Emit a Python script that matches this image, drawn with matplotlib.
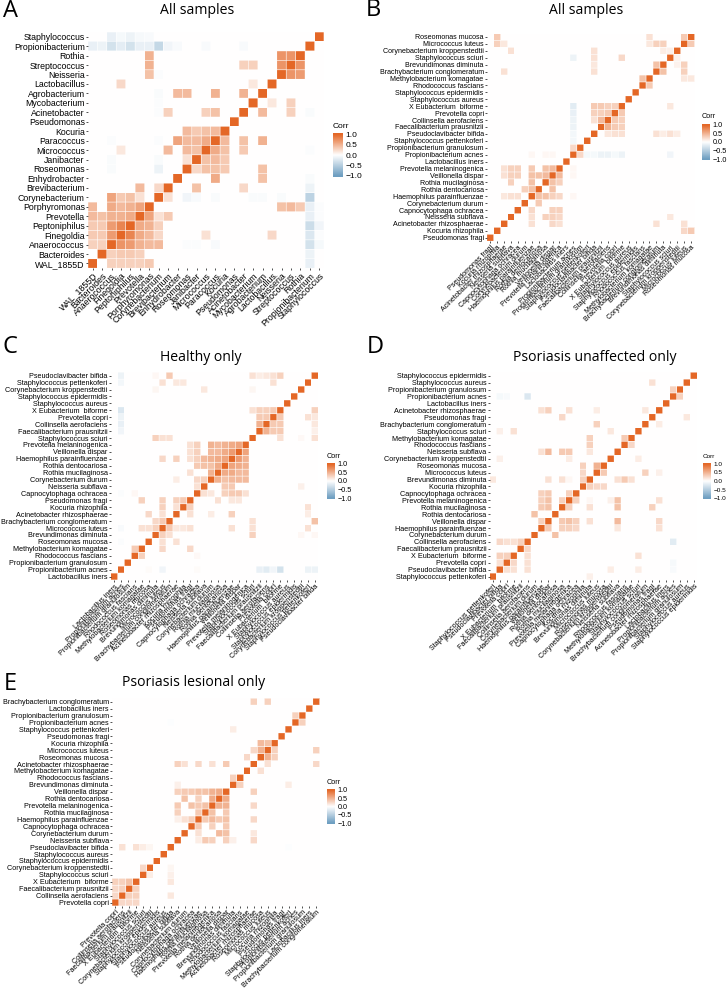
import numpy as np
import matplotlib
matplotlib.use("Agg")
import matplotlib.pyplot as plt
from matplotlib.colors import LinearSegmentedColormap

plt.rcParams['font.family'] = ['Liberation Sans', 'DejaVu Sans']

W, H = 728, 989
cmap = LinearSegmentedColormap.from_list('corr', ['#6D9EC1', '#FFFFFF', '#E46726'])
legend_ticks = [1.0, 0.5, 0.0, -0.5, -1.0]

# Category orders, bottom row / left column first
labels_A = ['WAL_1855D', 'Bacteroides', 'Anaerococcus', 'Finegoldia', 'Peptoniphilus', 'Prevotella',
            'Porphyromonas', 'Corynebacterium', 'Brevibacterium', 'Enhydrobacter', 'Roseomonas', 'Janibacter',
            'Micrococcus', 'Paracoccus', 'Kocuria', 'Pseudomonas', 'Acinetobacter', 'Mycobacterium',
            'Agrobacterium', 'Lactobacillus', 'Neisseria', 'Streptococcus', 'Rothia', 'Propionibacterium',
            'Staphylococcus']
labels_B = ['Pseudomonas fragi', 'Kocuria rhizophila', 'Acinetobacter rhizosphaerae', 'Neisseria subflava',
            'Capnocytophaga ochracea', 'Corynebacterium durum', 'Haemophilus parainfluenzae', 'Rothia dentocariosa',
            'Rothia mucilaginosa', 'Veillonella dispar', 'Prevotella melaninogenica', 'Lactobacillus iners',
            'Propionibacterium acnes', 'Propionibacterium granulosum', 'Staphylococcus pettenkoferi',
            'Pseudoclavibacter bifida', 'Faecalibacterium prausnitzii', 'Collinsella aerofaciens', 'Prevotella copri',
            'X Eubacterium  biforme', 'Staphylococcus aureus', 'Staphylococcus epidermidis', 'Rhodococcus fascians',
            'Methylobacterium komagatae', 'Brachybacterium conglomeratum', 'Brevundimonas diminuta',
            'Staphylococcus sciuri', 'Corynebacterium kroppenstedtii', 'Micrococcus luteus', 'Roseomonas mucosa']
labels_C = ['Lactobacillus iners', 'Propionibacterium acnes', 'Propionibacterium granulosum', 'Rhodococcus fascians',
            'Methylobacterium komagatae', 'Roseomonas mucosa', 'Brevundimonas diminuta', 'Micrococcus luteus',
            'Brachybacterium conglomeratum', 'Acinetobacter rhizosphaerae', 'Kocuria rhizophila', 'Pseudomonas fragi',
            'Capnocytophaga ochracea', 'Neisseria subflava', 'Corynebacterium durum', 'Rothia mucilaginosa',
            'Rothia dentocariosa', 'Haemophilus parainfluenzae', 'Veillonella dispar', 'Prevotella melaninogenica',
            'Staphylococcus sciuri', 'Faecalibacterium prausnitzii', 'Collinsella aerofaciens', 'Prevotella copri',
            'X Eubacterium  biforme', 'Staphylococcus aureus', 'Staphylococcus epidermidis',
            'Corynebacterium kroppenstedtii', 'Staphylococcus pettenkoferi', 'Pseudoclavibacter bifida']
labels_D = ['Staphylococcus pettenkoferi', 'Pseudoclavibacter bifida', 'Prevotella copri', 'X Eubacterium  biforme',
            'Faecalibacterium prausnitzii', 'Collinsella aerofaciens', 'Corynebacterium durum',
            'Haemophilus parainfluenzae', 'Veillonella dispar', 'Rothia dentocariosa', 'Rothia mucilaginosa',
            'Prevotella melaninogenica', 'Capnocytophaga ochracea', 'Kocuria rhizophila', 'Brevundimonas diminuta',
            'Micrococcus luteus', 'Roseomonas mucosa', 'Corynebacterium kroppenstedtii', 'Neisseria subflava',
            'Rhodococcus fascians', 'Methylobacterium komagatae', 'Staphylococcus sciuri',
            'Brachybacterium conglomeratum', 'Pseudomonas fragi', 'Acinetobacter rhizosphaerae', 'Lactobacillus iners',
            'Propionibacterium acnes', 'Propionibacterium granulosum', 'Staphylococcus aureus',
            'Staphylococcus epidermidis']
labels_E = ['Prevotella copri', 'Collinsella aerofaciens', 'Faecalibacterium prausnitzii', 'X Eubacterium  biforme',
            'Staphylococcus sciuri', 'Corynebacterium kroppenstedtii', 'Staphylococcus epidermidis',
            'Staphylococcus aureus', 'Pseudoclavibacter bifida', 'Neisseria subflava', 'Corynebacterium durum',
            'Capnocytophaga ochracea', 'Haemophilus parainfluenzae', 'Rothia mucilaginosa',
            'Prevotella melaninogenica', 'Rothia dentocariosa', 'Veillonella dispar', 'Brevundimonas diminuta',
            'Rhodococcus fascians', 'Methylobacterium komagatae', 'Acinetobacter rhizosphaerae', 'Roseomonas mucosa',
            'Micrococcus luteus', 'Kocuria rhizophila', 'Pseudomonas fragi', 'Staphylococcus pettenkoferi',
            'Propionibacterium acnes', 'Propionibacterium granulosum', 'Lactobacillus iners',
            'Brachybacterium conglomeratum']

# Correlations: row index -> {column index: value}; anything absent is ~0
corr_A = {
    24: {2: -.15, 3: -.07, 4: -.12, 5: -.06, 6: -.05, 24: 1},
    23: {0: -.15, 1: -.12, 2: -.3, 3: -.18, 4: -.3, 5: -.15, 6: -.15, 7: -.4, 8: -.1, 9: -.05, 12: -.05, 16: -.05, 23: 1},
    22: {6: .5, 20: .7, 21: .7, 22: 1},
    21: {6: .5, 16: .3, 17: .3, 20: .7, 21: 1, 22: .7},
    20: {6: .4, 7: -.03, 20: 1, 21: .7, 22: .65},
    19: {3: .25, 17: .15, 19: 1},
    18: {7: -.04, 9: .45, 10: .45, 13: .5, 16: .5, 18: 1},
    17: {7: -.03, 17: 1, 19: .15, 21: .3},
    16: {7: -.03, 8: .3, 12: .3, 13: .4, 16: 1, 18: .45, 21: .3, 23: -.04},
    15: {15: 1},
    14: {10: .45, 11: .35, 12: .4, 13: .45, 14: 1},
    13: {2: -.03, 7: -.03, 9: .6, 10: .45, 11: .45, 12: .55, 13: 1, 14: .45, 16: .4, 18: .5},
    12: {3: .15, 8: .45, 10: .45, 11: .4, 12: 1, 13: .55, 14: .4, 16: .35, 23: -.03},
    11: {2: -.04, 7: -.04, 10: .2, 11: 1, 12: .4, 13: .45, 14: .35},
    10: {2: -.04, 7: -.12, 10: 1, 11: .25, 12: .4, 13: .4, 14: .35, 18: .4},
    9: {9: 1, 13: .55, 18: .4, 23: -.04},
    8: {5: .45, 7: .25, 8: 1, 11: .4, 16: .25, 23: -.12},
    7: {2: .6, 3: .35, 4: .4, 5: .2, 7: 1, 8: .2, 10: -.1, 11: -.05, 13: -.04, 17: -.04, 18: -.04, 20: -.04, 23: -.45},
    6: {0: .45, 2: .55, 3: .45, 4: .5, 5: .6, 6: 1, 20: .4, 21: .45, 22: .35, 23: -.15, 24: -.03},
    5: {0: .45, 1: .4, 2: .5, 3: .5, 4: .55, 5: 1, 6: .6, 7: .2, 8: .35, 23: -.15, 24: -.03},
    4: {0: .35, 1: .35, 2: .65, 3: .8, 4: 1, 5: .55, 6: .5, 7: .3, 23: -.35, 24: -.1},
    3: {0: .35, 1: .35, 2: .65, 3: 1, 4: .8, 5: .55, 6: .45, 7: .25, 12: .2, 19: .25, 23: -.25, 24: -.03},
    2: {0: .3, 1: .3, 2: 1, 3: .7, 4: .65, 5: .5, 6: .45, 7: .45, 10: -.03, 11: -.03, 13: -.05, 23: -.3, 24: -.07},
    1: {1: 1, 2: .3, 3: .35, 4: .35, 5: .3, 23: -.12},
    0: {0: 1, 2: .3, 3: .3, 4: .3, 5: .3, 6: .35, 23: -.15},
}
corr_B = {
    29: {1: .35, 23: .2, 28: .35, 29: 1},
    28: {1: .3, 2: .15, 23: .15, 24: .3, 25: .3, 28: 1, 29: .35},
    27: {3: .2, 15: .2, 25: .12, 26: .1, 27: 1},
    26: {12: -.12, 15: .2, 19: .25, 26: 1, 27: .08},
    25: {15: .15, 24: .4, 25: 1, 27: .08, 28: .3},
    24: {2: .2, 15: .2, 24: 1, 25: .4, 28: .3},
    23: {22: .4, 23: 1, 28: .15, 29: .15},
    22: {22: 1, 23: .35},
    21: {21: 1},
    20: {20: 1},
    19: {12: -.2, 15: .35, 16: .35, 17: .3, 18: .3, 19: 1, 26: .15},
    18: {12: -.15, 15: .3, 16: .3, 17: .35, 18: 1, 19: .35},
    17: {12: -.12, 15: .2, 16: .45, 17: 1, 18: .35, 19: .3},
    16: {12: -.12, 16: 1, 17: .5, 18: .35, 19: .3},
    15: {12: -.08, 15: 1, 17: .15, 18: .2, 19: .2, 24: .2, 25: .12, 26: .2, 27: .12},
    14: {12: -.08, 14: 1},
    13: {12: .25, 13: 1},
    12: {6: .05, 8: .05, 9: .05, 12: 1, 13: .25, 14: -.07, 15: -.07, 16: -.12, 17: -.12, 18: -.07, 19: -.12, 26: -.1},
    11: {11: 1},
    10: {2: .2, 3: .3, 4: .3, 6: .35, 8: .4, 9: .45, 10: 1, 12: .05},
    9: {2: .2, 3: .3, 4: .3, 6: .4, 7: .4, 8: .45, 9: 1, 10: .45, 12: .05},
    8: {3: .3, 6: .4, 8: 1, 9: .4, 10: .3},
    7: {5: .3, 6: .4, 7: 1, 9: .4},
    6: {2: .15, 3: .2, 4: .2, 6: 1, 7: .4, 8: .4, 9: .3, 10: .25, 12: .05},
    5: {5: 1, 7: .35},
    4: {4: 1, 6: .25, 9: .3, 10: .3},
    3: {3: 1, 6: .2, 8: .3, 9: .3, 10: .25, 26: .15},
    2: {2: 1, 6: .2, 9: .25, 10: .2, 24: .2, 28: .2},
    1: {1: 1, 28: .25, 29: .35},
    0: {0: 1},
}
corr_C = {
    29: {1: -.12, 6: .05, 8: .35, 20: .2, 21: .12, 22: .15, 23: .2, 24: .3, 29: 1},
    28: {1: -.08, 7: .2, 9: .15, 10: .15, 23: .2, 28: 1},
    27: {6: .06, 13: .15, 20: .06, 27: 1},
    26: {26: 1},
    25: {25: 1},
    24: {1: -.25, 20: .2, 21: .3, 22: .3, 23: .35, 24: 1, 29: .3},
    23: {1: -.12, 21: .35, 22: .35, 23: 1, 24: .35, 28: .2, 29: .15},
    22: {1: -.15, 21: .5, 22: 1, 23: .35, 24: .35, 29: .15},
    21: {1: -.1, 21: 1, 22: .5, 23: .35, 24: .35, 29: .1},
    20: {6: .3, 7: .2, 8: .2, 20: 1, 24: .2, 27: .04, 29: .2},
    19: {11: .2, 12: .3, 14: .5, 15: .45, 16: .5, 17: .55, 18: .6, 19: 1},
    18: {11: .2, 12: .3, 14: .45, 15: .45, 16: .55, 17: .65, 18: 1, 19: .6},
    17: {7: .25, 9: .3, 11: .2, 12: .3, 13: .45, 14: .5, 15: .55, 16: .6, 17: 1, 18: .65, 19: .5},
    16: {12: .35, 13: .4, 14: .4, 15: .55, 16: 1, 17: .6, 18: .55, 19: .5},
    15: {11: .2, 14: .5, 15: 1, 16: .55, 17: .55, 18: .45, 19: .45},
    14: {9: .12, 12: .25, 13: .3, 14: 1, 15: .5, 16: .4, 17: .45, 18: .45, 19: .45},
    13: {12: .2, 13: 1, 16: .35, 17: .35, 27: .1},
    12: {1: -.03, 3: .05, 12: 1, 13: .2, 14: .15, 16: .3, 17: .35, 18: .35, 19: .2},
    11: {4: .3, 7: .3, 9: .3, 10: .35, 11: 1, 15: .2, 17: .15, 18: .15},
    10: {7: .3, 9: .2, 10: 1, 11: .3, 28: .2},
    9: {5: .25, 7: .2, 9: 1, 11: .2, 14: .12, 17: .3, 28: .12},
    8: {6: .25, 7: .35, 8: 1, 20: .2, 29: .4},
    7: {1: -.05, 4: .2, 5: .2, 6: .3, 7: 1, 8: .35, 9: .15, 10: .15, 11: .2, 17: .2, 20: .2, 28: .2},
    6: {6: 1, 7: .3, 8: .2, 20: .3, 27: .05, 29: .05},
    5: {1: -.03, 5: 1, 7: .2, 9: .2},
    4: {3: .35, 4: 1, 7: .25, 11: .25},
    3: {3: 1, 4: .3, 12: .04},
    2: {2: 1},
    1: {1: 1, 5: .03, 7: -.1, 12: .03, 21: -.15, 22: -.2, 23: -.1, 24: -.3, 28: -.12, 29: -.12},
    0: {0: 1},
}
corr_D = {
    29: {29: 1},
    28: {23: .2, 28: 1},
    27: {26: .3, 27: 1},
    26: {1: -.07, 2: -.05, 5: -.25, 26: 1, 27: .3},
    25: {25: 1},
    24: {7: .2, 8: .3, 11: .2, 15: .12, 22: .15, 24: 1},
    23: {10: .25, 23: 1, 28: .15},
    22: {15: .3, 22: 1, 24: .12},
    21: {1: .1, 3: .2, 17: .15, 21: 1},
    20: {14: .3, 19: .35, 20: 1},
    19: {14: .3, 19: 1, 20: .25},
    18: {7: .2, 8: .45, 10: .35, 11: .35, 14: .15, 18: 1},
    17: {1: .1, 11: .12, 17: 1, 21: .12},
    16: {13: .3, 15: .5, 16: 1},
    15: {13: .25, 15: 1, 16: .35, 22: .3, 24: .1},
    14: {0: .15, 8: .2, 10: .2, 11: .05, 13: .3, 14: 1, 18: .2, 19: .35, 20: .2},
    13: {13: 1, 14: .3, 15: .25, 16: .25},
    12: {7: .3, 8: .35, 11: .3, 12: 1},
    11: {7: .3, 8: .4, 10: .3, 11: 1, 12: .3, 14: .05, 17: .1, 18: .4, 24: .2},
    10: {7: .35, 8: .4, 10: 1, 11: .3, 14: .2, 18: .4, 23: .3},
    9: {6: .4, 9: 1},
    8: {7: .3, 8: 1, 10: .35, 11: .4, 12: .3, 14: .2, 18: .45, 24: .25},
    7: {7: 1, 8: .35, 10: .3, 11: .3, 12: .25, 18: .15, 24: .2},
    6: {6: 1, 9: .4},
    5: {1: .25, 2: .2, 3: .2, 4: .3, 5: 1, 26: -.2},
    4: {4: 1, 5: .25},
    3: {1: .3, 2: .3, 3: 1, 5: .2, 21: .2},
    2: {1: .2, 2: 1, 3: .25, 5: .2, 26: -.06},
    1: {1: 1, 2: .2, 3: .2, 5: .2, 17: .12, 21: .12, 26: -.05},
    0: {0: 1, 14: .1},
}
corr_E = {
    29: {20: .3, 22: .3, 29: 1},
    28: {28: 1},
    27: {26: .3, 27: 1},
    26: {8: -.02, 26: 1, 27: .3},
    25: {17: .12, 25: 1},
    24: {24: 1},
    23: {21: .45, 22: .4, 23: 1},
    22: {20: .25, 21: .5, 22: 1, 23: .3, 29: .3},
    21: {19: .25, 21: 1, 22: .5, 23: .3},
    20: {9: .3, 10: .2, 12: .25, 14: .2, 16: .35, 20: 1, 22: .2, 29: .25},
    19: {19: 1, 21: .2},
    18: {17: .3, 18: 1},
    17: {9: .1, 17: 1, 18: .3, 25: .12},
    16: {9: .3, 10: .35, 11: .35, 12: .4, 13: .4, 14: .5, 15: .55, 16: 1, 20: .3},
    15: {10: .4, 12: .3, 14: .55, 15: 1, 16: .55},
    14: {9: .35, 11: .4, 12: .35, 13: .4, 14: 1, 15: .5, 16: .5, 20: .25},
    13: {9: .3, 12: .35, 13: 1, 14: .4, 16: .35},
    12: {9: .1, 10: .2, 11: .3, 12: 1, 13: .35, 14: .45, 15: .35, 16: .4, 20: .25},
    11: {11: 1, 12: .35, 14: .3, 16: .35},
    10: {10: 1, 12: .2, 15: .45, 16: .4, 20: .15},
    9: {9: 1, 12: .12, 13: .35, 14: .3, 16: .3, 17: .1, 20: .25},
    8: {1: .2, 3: .2, 4: .12, 5: .06, 8: 1, 25: -.02},
    7: {7: 1},
    6: {6: 1},
    5: {4: .25, 5: 1, 8: .06},
    4: {4: 1, 5: .12, 8: .1},
    3: {0: .3, 1: .3, 2: .4, 3: 1, 8: .15},
    2: {0: .25, 1: .3, 2: 1, 3: .3},
    1: {0: .25, 1: 1, 2: .3, 3: .3, 8: .15},
    0: {0: 1, 1: .25, 2: .25, 3: .25},
}

fig = plt.figure(figsize=(W / 100, H / 100), dpi=100, facecolor='white')


def px_axes(x0, y0, x1, y1):
    return fig.add_axes([x0 / W, 1 - y1 / H, (x1 - x0) / W, (y1 - y0) / H])


def panel(labels, cells, box, fs, title, title_xy, letter, letter_xy, lg, lg_fs):
    n = len(labels)
    m = np.zeros((n, n))
    for r, row in cells.items():
        for c, v in row.items():
            m[r, c] = v
    ax = px_axes(*box)
    edges = np.arange(n + 1) - 0.5
    ax.pcolormesh(edges, edges, m, cmap=cmap, vmin=-1, vmax=1, edgecolors='none')
    grid_h = ax.hlines(edges, -0.5, n - 0.5, colors='white', linewidth=0.42)
    grid_v = ax.vlines(edges, -0.5, n - 0.5, colors='white', linewidth=0.42)
    grid_h.set_snap(False)
    grid_v.set_snap(False)
    ax.set_xlim(-0.5, n - 0.5)
    ax.set_ylim(-0.5, n - 0.5)
    ax.set_xticks(range(n))
    ax.set_yticks(range(n))
    ax.set_xticklabels(labels, rotation=45, ha='right', va='top', rotation_mode='anchor', fontsize=fs)
    ax.set_yticklabels(labels, fontsize=fs)
    ax.tick_params(length=1.4, width=0.6, color='#333333', labelcolor='black', pad=0.8)
    for s in ax.spines.values():
        s.set_visible(False)
    fig.text(title_xy[0] / W, 1 - title_xy[1] / H, title, family='Open Sans', fontsize=10.1, ha='center', va='center')
    fig.text(letter_xy[0] / W, 1 - letter_xy[1] / H, letter, family='Open Sans', fontsize=17, ha='left',
             va='baseline')
    cax = px_axes(*lg)
    cax.imshow(np.linspace(1.05, -1.05, 128)[:, None], cmap=cmap, vmin=-1, vmax=1, aspect='auto',
               extent=[0, 1, -1.05, 1.05])
    cax.set_xticks([])
    cax.yaxis.tick_right()
    cax.set_yticks(legend_ticks)
    cax.set_yticklabels([f'{t:.1f}'.replace('-', '\u2212') for t in legend_ticks], fontsize=lg_fs)
    cax.tick_params(length=0, pad=2)
    for s in cax.spines.values():
        s.set_visible(False)
    fig.text(lg[0] / W, 1 - (lg[1] - 7) / H, 'Corr', fontsize=lg_fs, ha='left', va='center')


panel(labels_A, corr_A, (87.9, 32, 324, 268.2), 6.35, 'All samples', (197, 10.7), 'A', (3, 17),
      (333, 133, 343, 177), 6.0)
panel(labels_B, corr_B, (486.8, 33.5, 694.5, 241.2), 5.15, 'All samples', (586, 10.5), 'B', (366, 16.5),
      (702, 124, 710, 160), 5.2)
panel(labels_C, corr_C, (110.6, 372.2, 318.4, 580), 5.2, 'Healthy only', (201, 358), 'C', (3, 353),
      (327, 463, 335, 499), 5.2)
panel(labels_D, corr_D, (489.5, 372.2, 697.3, 580), 5.2, 'Psoriasis unaffected only', (595, 358), 'D', (367, 353),
      (703, 463, 711, 499), 4.6)
panel(labels_E, corr_E, (111.9, 698.2, 319.7, 906), 5.2, 'Psoriasis lesional only', (194, 683), 'E', (4, 690),
      (327, 789, 335, 824), 5.2)

fig.savefig('out.png', dpi=100)
